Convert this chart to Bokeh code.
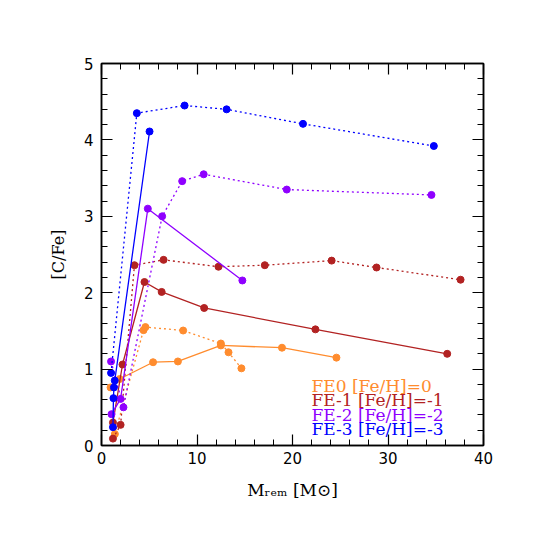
from bokeh.plotting import figure
from bokeh.models import Label, LinearAxis, Range1d, FixedTicker
from bokeh.embed import file_html
from bokeh.resources import INLINE

# ---- data ----
fe0_solid_m = [0.95, 1.9, 5.4, 8.0, 12.5, 18.9, 24.6]
fe0_solid_c = [0.76, 0.87, 1.09, 1.10, 1.31, 1.28, 1.15]
fe0_dot_m = [1.4, 4.4, 4.6, 8.55, 12.5, 13.3, 14.65]
fe0_dot_c = [0.15, 1.51, 1.55, 1.505, 1.335, 1.22, 1.01]

fe1_solid_m = [1.2, 2.2, 4.5, 6.3, 10.75, 22.4, 36.2]
fe1_solid_c = [0.30, 1.06, 2.14, 2.01, 1.80, 1.52, 1.20]
fe1_dot_m = [1.2, 2.0, 3.45, 6.5, 12.25, 17.1, 24.1, 28.8, 37.6]
fe1_dot_c = [0.09, 0.27, 2.36, 2.43, 2.34, 2.36, 2.42, 2.33, 2.17]

fe2_solid_m = [1.05, 2.0, 4.85, 14.75]
fe2_solid_c = [0.41, 0.61, 3.10, 2.16]
fe2_dot_m = [1.0, 2.3, 6.35, 8.45, 10.7, 19.4, 34.55]
fe2_dot_c = [1.10, 0.50, 3.00, 3.46, 3.55, 3.35, 3.28]

fe3_solid_m = [1.2, 1.25, 1.3, 1.39, 5.03]
fe3_solid_c = [0.24, 0.62, 0.76, 0.85, 4.11]
fe3_dot_m = [1.0, 3.7, 8.7, 13.1, 21.1, 34.8]
fe3_dot_c = [0.95, 4.35, 4.45, 4.40, 4.21, 3.92]

legend_labels = ["FE0 [Fe/H]=0", "FE-1 [Fe/H]=-1", "FE-2 [Fe/H]=-2", "FE-3 [Fe/H]=-3"]
colors = ["#ff8c2e", "#b22222", "#8f00ff", "#0000ff"]

x_ticks = [0, 10, 20, 30, 40]
y_ticks = [0, 1, 2, 3, 4, 5]
x_label = "M\u1d63\u2091\u2098 [M\u2299]"
y_label = "[C/Fe]"

series = [
    (fe0_solid_m, fe0_solid_c, fe0_dot_m, fe0_dot_c),
    (fe1_solid_m, fe1_solid_c, fe1_dot_m, fe1_dot_c),
    (fe2_solid_m, fe2_solid_c, fe2_dot_m, fe2_dot_c),
    (fe3_solid_m, fe3_solid_c, fe3_dot_m, fe3_dot_c),
]

p = figure(width=537, height=537, output_backend="svg", toolbar_location=None,
           x_range=Range1d(0, 40), y_range=Range1d(0, 5),
           min_border_left=101, min_border_right=54, min_border_top=63, min_border_bottom=92)
p.grid.visible = False
p.outline_line_color = "black"
p.outline_line_width = 1.5

for (sm, sc, dm, dc), col in zip(series, colors):
    p.line(dm, dc, color=col, line_width=1.3, line_dash="2 3")
    p.line(sm, sc, color=col, line_width=1.3)
    p.scatter(dm, dc, size=7, color=col)
    p.scatter(sm, sc, size=7, color=col)

def style_axis(ax, labels=True):
    ax.axis_line_width = 1.5
    ax.major_tick_in = 11
    ax.major_tick_out = 0
    ax.minor_tick_in = 6
    ax.minor_tick_out = 0
    ax.major_tick_line_width = 1.2
    ax.minor_tick_line_width = 1.0
    ax.major_label_text_font = "DejaVu Sans"
    ax.major_label_text_font_size = "15px"
    ax.major_label_text_color = "black"
    if not labels:
        ax.major_label_text_color = None

x_minor = list(range(0, 41, 2))
y_minor = [round(i * 0.2, 1) for i in range(26)]
p.xaxis.ticker = FixedTicker(ticks=x_ticks, minor_ticks=x_minor)
p.yaxis.ticker = FixedTicker(ticks=y_ticks, minor_ticks=y_minor)
style_axis(p.xaxis[0])
style_axis(p.yaxis[0])
p.xaxis.major_label_standoff = 6
p.yaxis.major_label_standoff = 8
p.yaxis.major_label_orientation = "horizontal"
p.yaxis.axis_label = y_label
p.yaxis.axis_label_text_font = "DejaVu Serif"
p.yaxis.axis_label_text_font_style = "normal"
p.yaxis.axis_label_text_font_size = "16px"
p.yaxis.axis_label_text_color = "black"
p.yaxis.axis_label_standoff = 13
p.xaxis.axis_label = x_label
p.xaxis.axis_label_text_font = "DejaVu Serif"
p.xaxis.axis_label_text_font_style = "normal"
p.xaxis.axis_label_text_font_size = "17px"
p.xaxis.axis_label_text_color = "black"
p.xaxis.axis_label_standoff = 13

ax_r = LinearAxis(ticker=FixedTicker(ticks=y_ticks, minor_ticks=y_minor))
ax_t = LinearAxis(ticker=FixedTicker(ticks=x_ticks, minor_ticks=x_minor))
style_axis(ax_r, labels=False)
style_axis(ax_t, labels=False)
p.add_layout(ax_r, "right")
p.add_layout(ax_t, "above")

def px2x(px):
    return (px - 101) / 9.55

def py2y(py):
    return (445 - py) / 76.4

# legend
leg_y = [385, 399.5, 414, 428.5]
for t, col, yy in zip(legend_labels, colors, leg_y):
    p.add_layout(Label(x=px2x(311), y=py2y(yy), text=t, text_font="DejaVu Serif",
                       text_font_size="17px", text_color=col,
                       text_align="left", text_baseline="alphabetic"))

open("out.html", "w").write(file_html(p, INLINE))
